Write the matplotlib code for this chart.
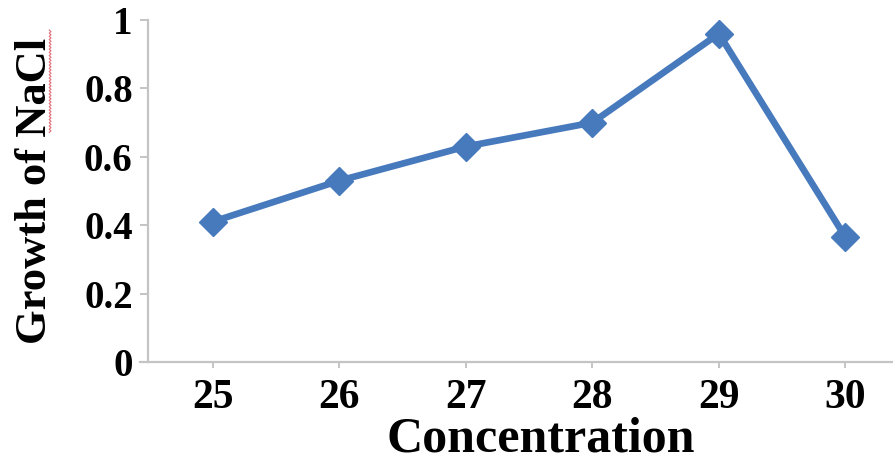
import numpy as np
import matplotlib
matplotlib.use("Agg")
import matplotlib.pyplot as plt

# Growth measured at each NaCl concentration
concentration = [25, 26, 27, 28, 29, 30]
growth = [0.41, 0.53, 0.63, 0.70, 0.96, 0.365]
y_ticks = [0, 0.2, 0.4, 0.6, 0.8, 1.0]
y_tick_labels = ["0", "0.2", "0.4", "0.6", "0.8", "1"]

W, H = 893, 470
DPI = 100
fig = plt.figure(figsize=(W / DPI, H / DPI), dpi=DPI)
fig.patch.set_facecolor("white")

# plot area in pixels: left 148, right 910 (runs past the canvas), top 20, bottom 362
left, right, top, bottom = 148, 910, 20, 362
ax = fig.add_axes([left / W, 1 - bottom / H, (right - left) / W, (bottom - top) / H])

line_color = "#4779bd"
ax.plot(concentration, growth, color=line_color, lw=4.8, marker="D",
        markersize=14, markerfacecolor=line_color, markeredgecolor=line_color,
        solid_joinstyle="miter", zorder=3)

ax.set_xlim(24.49, 30.51)
ax.set_ylim(0, 1.0)
ax.set_xticks(concentration)
ax.set_xticklabels([str(c) for c in concentration])
ax.set_yticks(y_ticks)
ax.set_yticklabels(y_tick_labels)

font = {"family": "Liberation Serif", "weight": "bold"}
spine_color = "#c4c4c4"
for side in ("top", "right"):
    ax.spines[side].set_visible(False)
for side in ("left", "bottom"):
    ax.spines[side].set_color(spine_color)
    ax.spines[side].set_linewidth(1.6)
ax.spines["bottom"].set_bounds(24.43, 30.51)

ax.tick_params(axis="y", direction="out", length=6, width=1.4, color=spine_color,
               pad=5)
ax.tick_params(axis="x", direction="out", length=4, width=1.4, color=spine_color,
               pad=8)
for lbl in ax.get_yticklabels():
    lbl.set_fontproperties(matplotlib.font_manager.FontProperties(size=28, **font))
for lbl in ax.get_xticklabels():
    lbl.set_fontproperties(matplotlib.font_manager.FontProperties(size=30, **font))

ax.set_ylabel("Growth of NaCl", fontsize=32, labelpad=21, **font)
ax.set_xlabel("Concentration", fontsize=36, **font)
ax.xaxis.set_label_coords((541 - left) / (right - left), -(451 - bottom) / (bottom - top),
                          transform=ax.transAxes)
ax.xaxis.label.set_verticalalignment("baseline")

# spell-check squiggle beside "NaCl"
ys = np.arange(30, 134, 1.6)
xs = np.where(np.arange(len(ys)) % 2 == 0, 49.2, 51.0)
fig.add_artist(plt.Line2D(xs / W, 1 - ys / H, transform=fig.transFigure,
                          color="#e0707a", lw=0.8))

fig.savefig("out.png", dpi=DPI, facecolor="white")
